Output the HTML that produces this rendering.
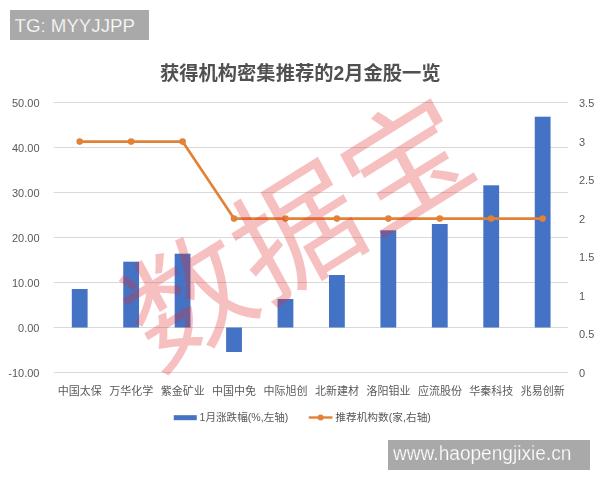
<!DOCTYPE html>
<html><head><meta charset="utf-8"><title>chart</title>
<style>
html,body{margin:0;padding:0;background:#fff;}
body{width:600px;height:480px;position:relative;overflow:hidden;font-family:"Liberation Sans",sans-serif;}
.yl,.yr{filter:blur(0.35px);position:absolute;font-size:11px;line-height:12px;height:12px;color:#595959;white-space:nowrap;}
.yl{left:0;width:39.5px;text-align:right;}
.yr{left:579px;text-align:left;}
.badge{position:absolute;background:#a9a9a9;color:#fff;font-size:18.7px;white-space:nowrap;-webkit-text-stroke:0.25px #a9a9a9;}
</style></head><body>
<svg width="600" height="480" viewBox="0 0 600 480" style="position:absolute;left:0;top:0;filter:blur(0.4px)">
<rect x="53.7" y="102.0" width="514.3" height="1" fill="#d9d9d9"/>
<rect x="53.7" y="147.0" width="514.3" height="1" fill="#d9d9d9"/>
<rect x="53.7" y="192.0" width="514.3" height="1" fill="#d9d9d9"/>
<rect x="53.7" y="237.0" width="514.3" height="1" fill="#d9d9d9"/>
<rect x="53.7" y="282.0" width="514.3" height="1" fill="#d9d9d9"/>
<rect x="53.7" y="327.0" width="514.3" height="1" fill="#d9d9d9"/>
<rect x="53.7" y="372.0" width="514.3" height="1" fill="#d9d9d9"/>
<rect x="71.80" y="289.00" width="15.80" height="38.50" fill="#4472c4"/>
<rect x="123.24" y="261.70" width="15.80" height="65.80" fill="#4472c4"/>
<rect x="174.68" y="253.70" width="15.80" height="73.80" fill="#4472c4"/>
<rect x="226.12" y="327.50" width="15.80" height="24.50" fill="#4472c4"/>
<rect x="277.56" y="299.00" width="15.80" height="28.50" fill="#4472c4"/>
<rect x="329.00" y="275.00" width="15.80" height="52.50" fill="#4472c4"/>
<rect x="380.44" y="230.30" width="15.80" height="97.20" fill="#4472c4"/>
<rect x="431.88" y="224.00" width="15.80" height="103.50" fill="#4472c4"/>
<rect x="483.32" y="185.30" width="15.80" height="142.20" fill="#4472c4"/>
<rect x="534.76" y="116.70" width="15.80" height="210.80" fill="#4472c4"/>
<polyline points="79.70,141.60 131.14,141.60 182.58,141.60 234.02,218.60 285.46,218.60 336.90,218.60 388.34,218.60 439.78,218.60 491.22,218.60 542.66,218.60" fill="none" stroke="#e28237" stroke-width="2.7" stroke-linejoin="round" stroke-linecap="round"/>
<circle cx="79.70" cy="141.60" r="3.3" fill="#e28237"/>
<circle cx="131.14" cy="141.60" r="3.3" fill="#e28237"/>
<circle cx="182.58" cy="141.60" r="3.3" fill="#e28237"/>
<circle cx="234.02" cy="218.60" r="3.3" fill="#e28237"/>
<circle cx="285.46" cy="218.60" r="3.3" fill="#e28237"/>
<circle cx="336.90" cy="218.60" r="3.3" fill="#e28237"/>
<circle cx="388.34" cy="218.60" r="3.3" fill="#e28237"/>
<circle cx="439.78" cy="218.60" r="3.3" fill="#e28237"/>
<circle cx="491.22" cy="218.60" r="3.3" fill="#e28237"/>
<circle cx="542.66" cy="218.60" r="3.3" fill="#e28237"/>
<g font-family='"Liberation Sans","Noto Sans CJK SC",sans-serif' font-size="11" fill="#595959" text-anchor="middle">
<text x="79.8" y="395">中国太保</text>
<text x="131.2" y="395">万华化学</text>
<text x="182.7" y="395">紫金矿业</text>
<text x="234.1" y="395">中国中免</text>
<text x="285.6" y="395">中际旭创</text>
<text x="337" y="395">北新建材</text>
<text x="388.4" y="395">洛阳钼业</text>
<text x="439.9" y="395">应流股份</text>
<text x="491.3" y="395">华秦科技</text>
<text x="542.8" y="395">兆易创新</text>
</g>
<text x="300.3" y="79.8" font-family='"Liberation Sans","Noto Sans CJK SC",sans-serif' font-size="19.3" font-weight="bold" fill="#505050" text-anchor="middle">获得机构密集推荐的2月金股一览</text>
<rect x="173.75" y="415.2" width="23" height="5" fill="#4472c4"/>
<text x="199.5" y="420.9" font-family='"Liberation Sans","Noto Sans CJK SC",sans-serif' font-size="10.6" fill="#595959">1月涨跌幅(%,左轴)</text>
<rect x="308.75" y="416.3" width="23.75" height="2.4" fill="#e28237"/>
<circle cx="320.6" cy="417.5" r="3" fill="#e28237"/>
<text x="335.3" y="420.9" font-family='"Liberation Sans","Noto Sans CJK SC",sans-serif' font-size="10.7" fill="#595959">推荐机构数(家,右轴)</text>
<g transform="matrix(0.9904 -0.0538 -0.00846 1.01937 10.41 11.94)"><g transform="translate(291,230) rotate(-29)"><text x="0" y="47" font-family='"Liberation Sans","Noto Sans CJK SC",sans-serif' font-size="125" fill="#e23030" opacity="0.3" text-anchor="middle">数据宝</text></g></g>
</svg>
<div class="yl" style="top:97.0px">50.00</div>
<div class="yl" style="top:142.0px">40.00</div>
<div class="yl" style="top:187.0px">30.00</div>
<div class="yl" style="top:232.0px">20.00</div>
<div class="yl" style="top:277.0px">10.00</div>
<div class="yl" style="top:322.0px">0.00</div>
<div class="yl" style="top:367.0px">-10.00</div>
<div class="yr" style="top:97.0px">3.5</div>
<div class="yr" style="top:135.6px">3</div>
<div class="yr" style="top:174.1px">2.5</div>
<div class="yr" style="top:212.7px">2</div>
<div class="yr" style="top:251.3px">1.5</div>
<div class="yr" style="top:289.9px">1</div>
<div class="yr" style="top:328.4px">0.5</div>
<div class="yr" style="top:367.0px">0</div>
<div class="badge" style="left:10px;top:10px;width:139px;height:30px;line-height:30px;"><span style="position:absolute;left:4.5px;top:0.75px">TG: MYYJJPP</span></div>
<div class="badge" style="left:388px;top:440px;width:202px;height:30px;line-height:30px;"><span style="position:absolute;left:5px;top:-1.8px;font-size:20px;transform:scaleX(0.955);transform-origin:0 0">www.haopengjixie.cn</span></div>
</body></html>
